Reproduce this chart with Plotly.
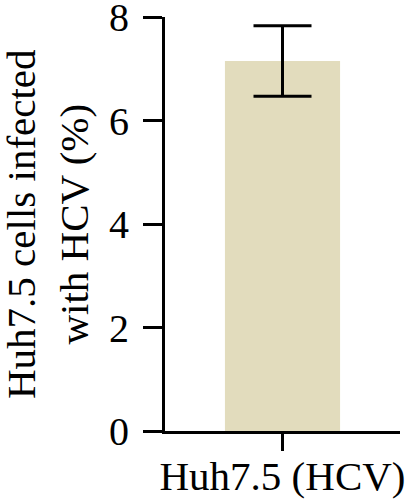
import plotly.graph_objects as go

# values
categories = ["Huh7.5 (HCV)"]
means = [7.15]
errors = [0.68]
y_ticks = [0, 2, 4, 6, 8]
y_title = "Huh7.5 cells infected<br>with HCV (%)"

FONT = "Liberation Serif"

fig = go.Figure()
fig.add_trace(go.Bar(
    x=categories, y=means,
    width=0.49,
    marker=dict(color="#e2dcbd", line=dict(width=0)),
    error_y=dict(type="data", array=errors, visible=True,
                 color="black", thickness=3, width=29),
))

fig.update_layout(
    width=409, height=500,
    margin=dict(l=165, r=9, t=17, b=69),
    plot_bgcolor="white", paper_bgcolor="white",
    showlegend=False,
    font=dict(family=FONT, color="black"),
)
fig.update_xaxes(
    range=[-0.5, 0.5], automargin=False,
    showline=True, linecolor="black", linewidth=3,
    ticks="outside", ticklen=17, tickwidth=3, tickcolor="black",
    tickfont=dict(size=41, family=FONT),
    ticklabeloverflow="allow", ticklabelstandoff=-10,
)
fig.update_yaxes(
    range=[0, 8], tickvals=y_ticks, automargin=False,
    showline=True, linecolor="black", linewidth=3,
    ticks="outside", ticklen=19, tickwidth=3, tickcolor="black",
    tickfont=dict(size=40, family=FONT),
    ticklabeloverflow="allow", ticklabelstandoff=6,
    showgrid=False, zeroline=False,
)

# y-axis title as an annotation so it sits near the left edge
fig.add_annotation(
    text=y_title, textangle=-90,
    xref="paper", yref="paper", x=-(165 - 47) / 235, y=0.5,
    xanchor="center", yanchor="middle", showarrow=False,
    font=dict(size=41, family=FONT),
)

# drop the page's default body margin so the figure fills the window
fig.write_html("out.html", config={"displayModeBar": False},
               post_script="document.body.style.margin='0';")
